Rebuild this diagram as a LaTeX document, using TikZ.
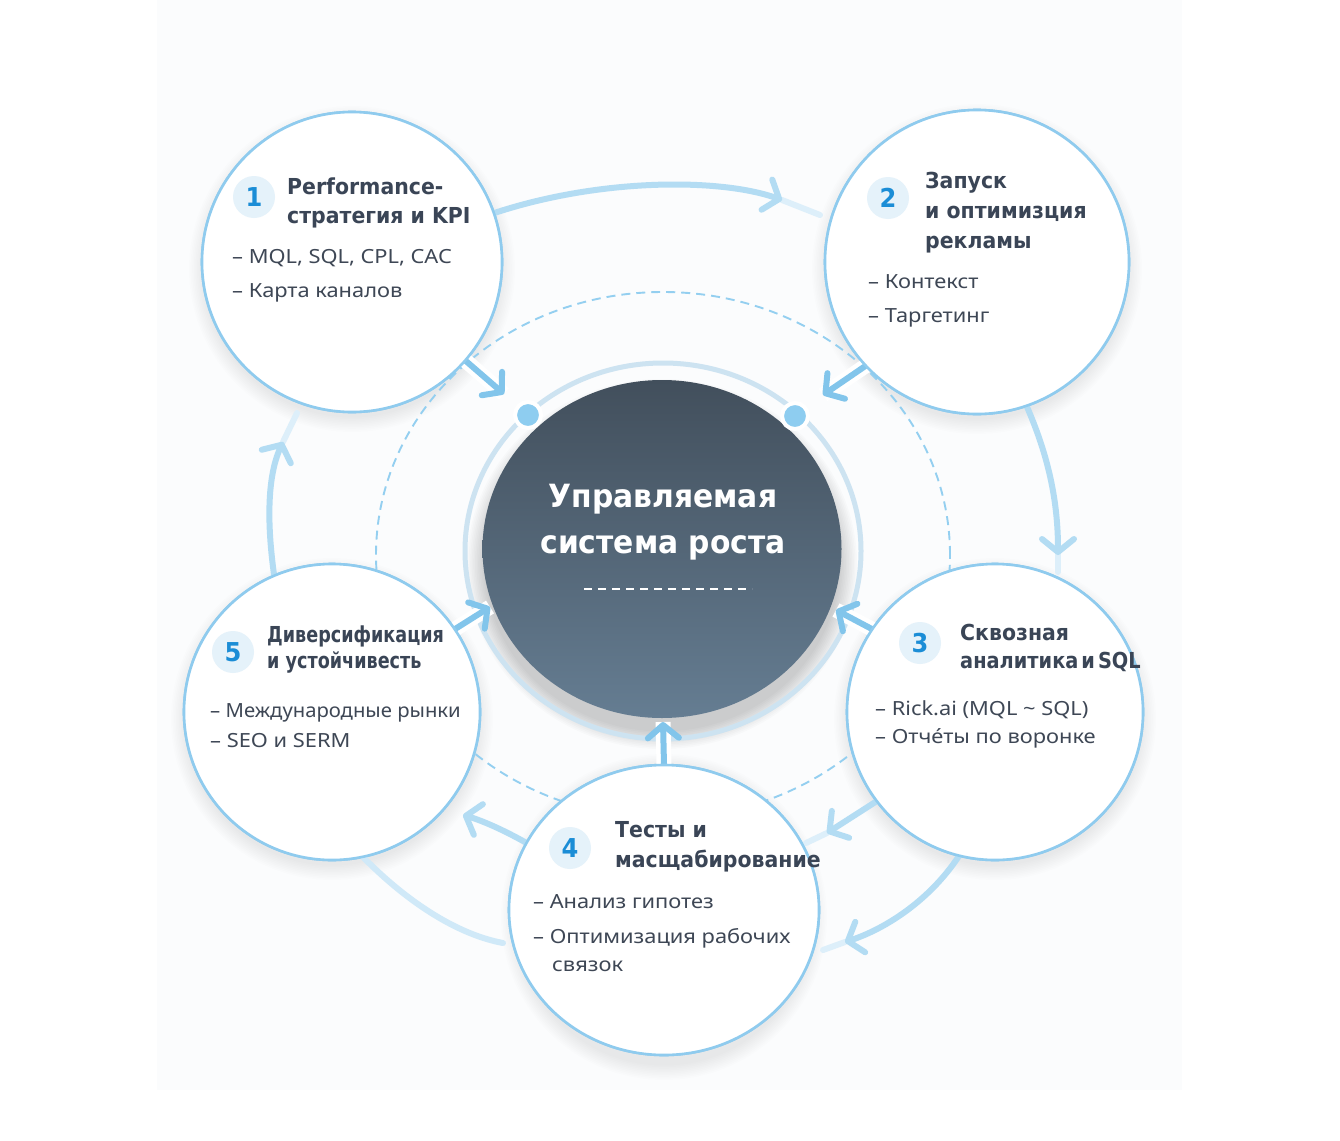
\documentclass[tikz,border=0pt]{standalone}
\usepackage{fontspec}
\setmainfont{Noto Sans}[FakeStretch=1.12]
\newfontfamily\bodynarrow{Noto Sans}[FakeStretch=1.04]
\newfontfamily\hfont{DejaVu Sans}[FakeStretch=0.93]
\newfontfamily\hfontc{DejaVu Sans}[FakeStretch=0.8]
\newfontfamily\hfontm{DejaVu Sans}[FakeStretch=0.88]
\usetikzlibrary{arrows.meta,shapes.geometric}
\definecolor{circ}{HTML}{8FCBEE}
\definecolor{arrowc}{HTML}{B3DCF3}
\definecolor{arrowfaint}{HTML}{DDEFFA}
\definecolor{arrowdark}{HTML}{82C5EB}
\definecolor{headc}{HTML}{3A4556}
\definecolor{bodyc}{HTML}{3E4755}
\definecolor{numc}{HTML}{1B8DD6}
\definecolor{badgec}{HTML}{E5F2FA}
\definecolor{ringc}{HTML}{CDE3F1}
\definecolor{dashc}{HTML}{94CFF0}
\definecolor{dotc}{HTML}{8ECDF0}
\definecolor{bgc}{HTML}{FBFCFD}
\definecolor{coretop}{HTML}{424F5C}
\definecolor{corebot}{HTML}{657D92}
\newcommand{\mysoftshadow}[3]{%
  \foreach \k in {0,...,9}{\fill[black,opacity=0.007] (#1,#2+7) circle[radius={#3pt+13pt-\k*1.6pt}];}}
\tikzset{
  bub/.style={circle, draw=circ, line width=2.6pt, fill=white, inner sep=0pt, outer sep=0pt},
  badge/.style={circle, fill=badgec, minimum size=42pt, inner sep=0pt, font=\hfont\bfseries\fontsize{26}{26}\selectfont, text=numc},
  head/.style={font=\hfont\bfseries\fontsize{22}{26}\selectfont, text=headc, inner sep=0pt, anchor=base west},
  body/.style={font=\fontsize{19.5}{23}\selectfont, text=bodyc, inner sep=0pt, anchor=base west},
  flow/.style={line width=6pt, draw=arrowc, line cap=round, -{Straight Barb[length=13pt,width=32pt,round]}},
  tailline/.style={line width=6pt, draw=arrowfaint, line cap=round},
  inflow/.style={line width=6pt, draw=arrowdark, line cap=round, -{Straight Barb[length=13pt,width=31pt,round]},
     preaction={draw=white, line width=15pt, -}},
  coretext/.style={font=\hfont\bfseries\fontsize{32}{38}\selectfont, text=white, inner sep=0pt, anchor=base},
}
\begin{document}
\begin{tikzpicture}[x=1pt,y=-1pt]
\useasboundingbox (0,0) rectangle (1340,1140);
\fill[white] (0,0) rectangle (1340,1140);
\fill[bgc] (157,0) rectangle (1182,1090);

% shadows
\mysoftshadow{352}{262}{150}
\mysoftshadow{977}{262}{152}
\mysoftshadow{995}{712}{148}
\mysoftshadow{332}{712}{148}
\mysoftshadow{664}{910}{150}
\foreach \k in {0,...,11}{\fill[black,opacity=0.014] (662,564) ellipse[x radius={180pt+15pt-\k*1.6pt}, y radius={170pt+15pt-\k*1.6pt}];}

% dashed orbit
\draw[dashc, line width=1.9pt, dash pattern=on 9pt off 6pt] (663,555) ellipse[x radius=287pt, y radius=263pt];

% ring around core
\draw[ringc, line width=5pt] (663,551) ellipse[x radius=198pt, y radius=188pt];

% core
\node[ellipse, minimum width=359pt, minimum height=338pt, inner sep=0pt, top color=coretop, bottom color=corebot] (core) at (662,549) {};

% dots on ring
\node[circle, fill=dotc, draw=white, line width=4pt, minimum size=26pt, inner sep=0pt] (d1) at (528,415) {};
\node[circle, fill=dotc, draw=white, line width=4pt, minimum size=26pt, inner sep=0pt] (d2) at (795,416) {};

% circles (nodes, drawn now so anchors exist; redrawn on top later)
\node[bub, minimum size=300pt] (c1) at (352,262) {};
\node[bub, minimum size=304pt] (c2) at (977,262) {};
\node[bub, minimum size=296pt] (c3) at (995,712) {};
\node[bub, ellipse, minimum width=310pt, minimum height=290pt] (c4) at (664,910) {};
\node[bub, minimum size=296pt] (c5) at (332,712) {};

% free ends
\coordinate (t12) at (782,200); \coordinate (e12) at (820,215);
\coordinate (t23) at (1058,555); \coordinate (e23) at (1058,572);
\coordinate (t34a) at (827,833); \coordinate (e34a) at (806,843);
\coordinate (t34b) at (845,942); \coordinate (e34b) at (823,950);
\coordinate (t45a) at (463,815);
\coordinate (e45b) at (503,943);
\coordinate (t51) at (283,442); \coordinate (e51) at (297,413);
\coordinate (k1) at (504,394);
\coordinate (k2) at (823,395);
\coordinate (k3) at (836,610);
\coordinate (k4) at (663,722);
\coordinate (k5) at (490,607);

% tails
\draw[tailline] (t12) -- (e12);
\draw[tailline] (t23) -- (e23);
\draw[tailline] (t34a) -- (e34a);
\draw[tailline] (t34b) -- (e34b);
\draw[tailline] (t51) -- (e51);

% outer cycle arrows
\draw[flow] (c1.19) .. controls (600,178) and (720,178) .. (t12);
\draw[flow] (c2.-71) .. controls (1048,455) and (1058,500) .. (t23);
\draw[flow] (c3.-143) -- (t34a);
\draw[flow] (c3.-104) .. controls (928,903) and (882,930) .. (t34b);
\draw[flow] (c4.154) .. controls (500,828) and (480,820) .. (t45a);
\draw[line width=6pt, draw=arrowfaint!70!arrowc, line cap=round] (c5.-78) .. controls (410,905) and (460,935) .. (e45b);
\draw[flow] (c5.113) .. controls (265,510) and (270,470) .. (t51);

% arrows into core
\draw[inflow] (c1.-41) -- (k1);
\draw[inflow] (c2.-137) -- (k2);
\draw[inflow] (c3.146) -- (k3);
\draw[inflow] (c4.90) -- (k4);
\draw[inflow] (c5.34) -- (k5);

% redraw circles on top
\node[bub, minimum size=300pt] at (c1) {};
\node[bub, minimum size=304pt] at (c2) {};
\node[bub, minimum size=296pt] at (c3) {};
\node[bub, ellipse, minimum width=310pt, minimum height=290pt] at (c4) {};
\node[bub, minimum size=296pt] at (c5) {};

% core text
\node[coretext] (ct1) at (663,507) {Управляемая};
\node[coretext] (ct2) at (663,553) {система роста};
\draw[white, line width=2pt, dash pattern=on 8pt off 6pt] (584,589) -- (752,589);

% circle 1
\node[badge] (b1) at (254,197) {1};
\node[head] (h1a) at (287,194) {Performance-};
\node[head] (h1b) at (287,223) {стратегия и KPI};
\node[body] (l1a) at (232,263) {– MQL, SQL, CPL, CAC};
\node[body] (l1b) at (232,297) {– Карта каналов};

% circle 2
\node[badge] (b2) at (888,198) {2};
\node[head] (h2a) at (925,188) {Запуск};
\node[head] (h2b) at (925,218) {и оптимизция};
\node[head] (h2c) at (925,248) {рекламы};
\node[body] (l2a) at (868,288) {– Контекст};
\node[body] (l2b) at (868,322) {– Таргетинг};

% circle 3
\node[badge] (b3) at (920,643) {3};
\node[head] (h3a) at (960,640) {Сквозная};
\node[head, font=\hfontm\bfseries\fontsize{22}{26}\selectfont] (h3b) at (960,668) {аналитика\hspace{3pt}и\hspace{3pt}SQL};
\node[body] (l3a) at (875,715) {– Rick.ai (MQL \textasciitilde{} SQL)};
\node[body] (l3b) at (875,743) {– Отче́ты по воронке};

% circle 4
\node[badge] (b4) at (570,848) {4};
\node[head] (h4a) at (615,837) {Тесты и};
\node[head] (h4b) at (615,867) {масщабирование};
\node[body] (l4a) at (533,908) {– Анализ гипотез};
\node[body] (l4b) at (533,943) {– Оптимизация рабочих};
\node[body] (l4c) at (552,971) {связок};

% circle 5
\node[badge] (b5) at (233,652) {5};
\node[head, font=\hfontc\bfseries\fontsize{22}{26}\selectfont] (h5a) at (267,642) {Диверсификация};
\node[head, font=\hfontc\bfseries\fontsize{22}{26}\selectfont] (h5b) at (267,668) {и устойчивесть};
\node[body, font=\bodynarrow\fontsize{19.5}{23}\selectfont] (l5a) at (210,717) {– Международные рынки};
\node[body] (l5b) at (210,747) {– SEO и SERM};
\end{tikzpicture}
\end{document}
